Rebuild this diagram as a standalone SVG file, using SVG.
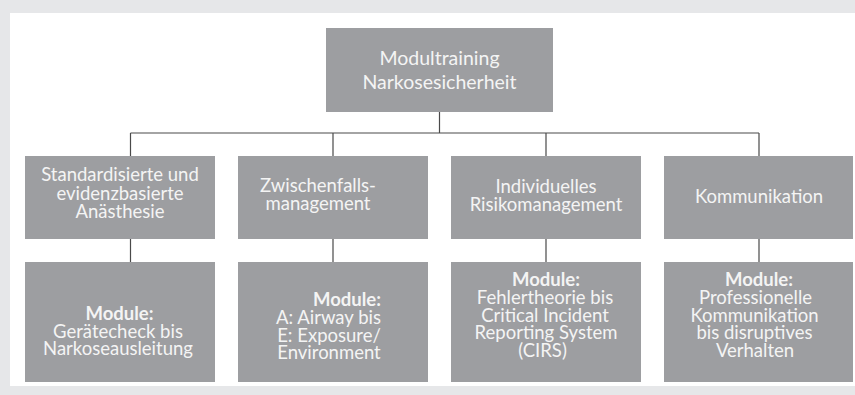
<svg xmlns="http://www.w3.org/2000/svg" width="855" height="395" viewBox="0 0 855 395">
<style>
.box{fill:#9d9ea1}
.t{font-family:Lato,"Liberation Sans",sans-serif;font-size:18.5px;fill:#f4f4f4;text-anchor:middle}
.top{font-size:19.5px}
.b{font-weight:bold}
.c{stroke:#4a4a4a;stroke-width:1.2;fill:none}
</style>
<rect x="0" y="0" width="855" height="395" fill="#e6e7e9"/>
<rect x="10" y="13" width="845" height="373" fill="#ffffff"/>
<g id="connectors">
<path class="c" d="M439.5 112V133M130.5 133H759M130.5 133V156M333 133V156M546 133V156M759 133V156"/>
<path class="c" d="M130.5 239V262M333 239V262M546 239V262M759 239V262"/>
</g>
<g id="root">
<rect class="box" x="326" y="28" width="227" height="84"/>
<text class="t top" x="439.5" y="65">Modultraining</text>
<text class="t top" x="439.5" y="89">Narkosesicherheit</text>
</g>
<g id="cat1">
<rect class="box" x="25" y="156" width="190" height="83"/>
<text class="t" x="120" y="181">Standardisierte und</text>
<text class="t" x="120" y="199.5">evidenzbasierte</text>
<text class="t" x="120" y="218">Anästhesie</text>
</g>
<g id="cat2">
<rect class="box" x="238" y="156" width="190" height="83"/>
<text class="t" x="318" y="192">Zwischenfalls-</text>
<text class="t" x="318" y="210">management</text>
</g>
<g id="cat3">
<rect class="box" x="451" y="156" width="190" height="83"/>
<text class="t" x="546" y="193">Individuelles</text>
<text class="t" x="546" y="211">Risikomanagement</text>
</g>
<g id="cat4">
<rect class="box" x="664" y="156" width="189" height="83"/>
<text class="t" x="759" y="203">Kommunikation</text>
</g>
<g id="mod1">
<rect class="box" x="25" y="262" width="190" height="120"/>
<text class="t b" x="119.5" y="320">Module:</text>
<text class="t" x="118" y="337.5">Gerätecheck bis</text>
<text class="t" x="118" y="355">Narkoseausleitung</text>
</g>
<g id="mod2">
<rect class="box" x="238" y="262" width="190" height="120"/>
<text class="t b" x="347" y="306">Module:</text>
<text class="t" x="328.5" y="324">A: Airway bis</text>
<text class="t" x="329" y="341.5">E: Exposure/</text>
<text class="t" x="329" y="359">Environment</text>
</g>
<g id="mod3">
<rect class="box" x="451" y="262" width="190" height="120"/>
<text class="t b" x="546" y="286">Module:</text>
<text class="t" x="545" y="304">Fehlertheorie bis</text>
<text class="t" x="545" y="321.5">Critical Incident</text>
<text class="t" x="546" y="339">Reporting System</text>
<text class="t" x="542.5" y="357">(CIRS)</text>
</g>
<g id="mod4">
<rect class="box" x="664" y="262" width="189" height="120"/>
<text class="t b" x="759" y="286">Module:</text>
<text class="t" x="755.5" y="304">Professionelle</text>
<text class="t" x="754.5" y="321.5">Kommunikation</text>
<text class="t" x="754.5" y="339">bis disruptives</text>
<text class="t" x="755" y="357">Verhalten</text>
</g>
</svg>
